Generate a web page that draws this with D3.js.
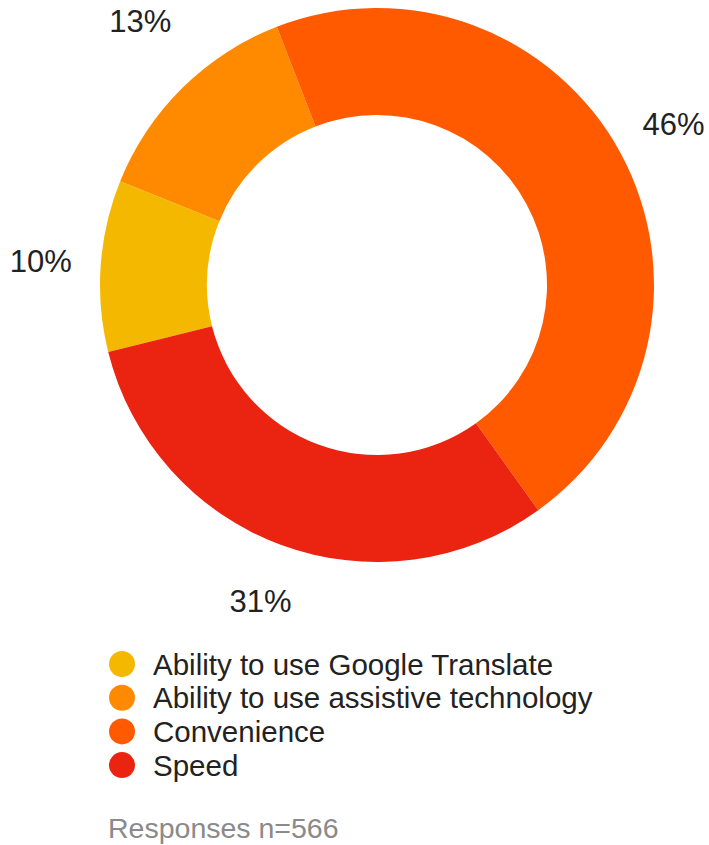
<!DOCTYPE html>
<html>
<head>
<meta charset="utf-8">
<script src="https://cdn.jsdelivr.net/npm/d3@7/dist/d3.min.js"></script>
<style>
  html, body { margin: 0; padding: 0; background: #ffffff; }
  svg { display: block; font-family: "Liberation Sans", Arial, Helvetica, sans-serif; }
</style>
</head>
<body>
<svg id="chart" width="709" height="845"></svg>
<script>
// Reasons respondents gave, in legend order
const categories = [
  "Ability to use Google Translate",
  "Ability to use assistive technology",
  "Convenience",
  "Speed"
];
// Share of responses (%)
const shares = [10, 13, 46, 31];
const colors = ["#F5B800", "#FF8A00", "#FF5A00", "#EA2410"];
const responseCount = 566;

const svg = d3.select("#chart");

const cx = 377, cy = 285;
const outerR = 277, innerR = 170, labelR = 337;
const startDeg = -104;

const pie = d3.pie()
  .sort(null)
  .value(d => d.value)
  .startAngle(startDeg * Math.PI / 180)
  .endAngle(startDeg * Math.PI / 180 + 2 * Math.PI);

const data = categories.map((c, i) => ({ name: c, value: shares[i], color: colors[i] }));
const arcs = pie(data);

const arc = d3.arc().innerRadius(innerR).outerRadius(outerR);
const labelArc = d3.arc().innerRadius(labelR).outerRadius(labelR);

// The small upper-left label sits a little higher, clear of the ring's shoulder
const labelLift = { "Ability to use assistive technology": 24 };

const g = svg.append("g").attr("transform", `translate(${cx},${cy})`);

g.selectAll("path.slice")
  .data(arcs)
  .join("path")
  .attr("class", "slice")
  .attr("d", arc)
  .attr("fill", d => d.data.color);

// Percentage labels outside the ring
g.selectAll("text.pct")
  .data(arcs)
  .join("text")
  .attr("class", "pct")
  .attr("transform", d => {
    const [x, y] = labelArc.centroid(d);
    return `translate(${x},${y - (labelLift[d.data.name] || 0)})`;
  })
  .attr("text-anchor", "middle")
  .attr("dominant-baseline", "central")
  .attr("font-size", 31)
  .attr("fill", "#222")
  .text(d => `${d.data.value}%`);

// Legend
const legendX = 122, legendY = 664, rowH = 33.7;
const legend = svg.append("g");
const rows = legend.selectAll("g.row")
  .data(data)
  .join("g")
  .attr("class", "row")
  .attr("transform", (d, i) => `translate(${legendX},${legendY + i * rowH})`);

rows.append("circle")
  .attr("r", 13)
  .attr("fill", d => d.color);

rows.append("text")
  .attr("x", 31)
  .attr("y", 0)
  .attr("dominant-baseline", "central")
  .attr("font-size", 29.5)
  .attr("fill", "#222")
  .text(d => d.name);

svg.append("text")
  .attr("x", 108)
  .attr("y", 828)
  .attr("dominant-baseline", "central")
  .attr("font-size", 28.5)
  .attr("fill", "#8a8a8a")
  .text(`Responses n=${responseCount}`);
</script>
</body>
</html>
